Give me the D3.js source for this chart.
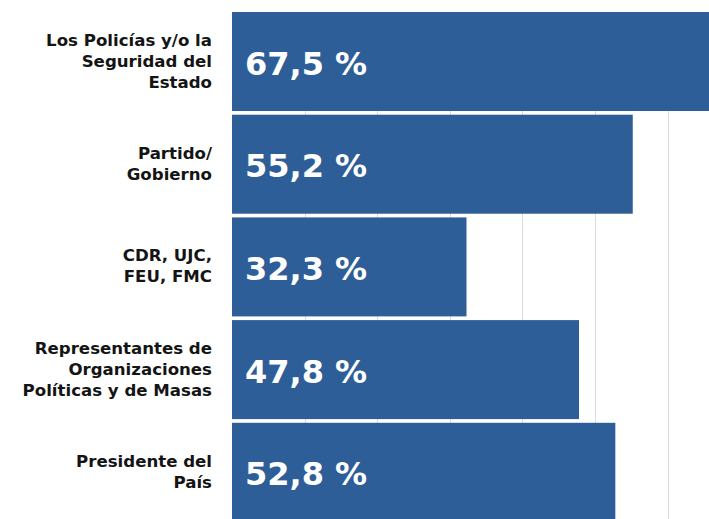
<!DOCTYPE html>
<html>
<head>
<meta charset="utf-8" />
<style>
  html, body {
    margin: 0;
    padding: 0;
    background: #fff;
  }
  .grid line {
    stroke: #dcdcdc;
    stroke-width: 1px;
  }
  .bar {
    fill: #2e5e97;
  }
  .cat {
    font-family: "DejaVu Sans", sans-serif;
    font-weight: bold;
    font-size: 16.6px;
    fill: #141414;
    text-anchor: end;
  }
  .val {
    font-family: "DejaVu Sans", sans-serif;
    font-weight: bold;
    font-size: 32px;
    fill: #fff;
  }
</style>
</head>
<body>
  <div id="vis"></div>

  <script src="https://d3js.org/d3.v7.min.js"></script>
  <script>
  // ** DATA **
  var categories = [
    ["Los Policías y/o la", "Seguridad del", "Estado"],
    ["Partido/", "Gobierno"],
    ["CDR, UJC,", "FEU, FMC"],
    ["Representantes de", "Organizaciones", "Políticas y de Masas"],
    ["Presidente del", "País"]
  ];
  var values = [67.5, 55.2, 32.3, 47.8, 52.8];
  var valueLabels = ["67,5 %", "55,2 %", "32,3 %", "47,8 %", "52,8 %"];
  var gridTicks = [10, 20, 30, 40, 50, 60, 70];

  (function() {
    var W = 709, H = 519;
    var x0 = 232, lineH = 21;

    var svg = d3.select("#vis").append("svg")
      .attr("width", W).attr("height", H);

    var idx = d3.range(values.length);

    var x = d3.scaleLinear()
      .domain([0, 70])
      .range([x0, x0 + 70 * 7.26]);

    var y = d3.scaleBand()
      .domain(idx)
      .range([12, 521.8])
      .paddingInner(0.036)
      .paddingOuter(0);

    // grid lines behind the bars
    svg.append("g").attr("class", "grid")
      .selectAll("line")
      .data(gridTicks)
      .enter().append("line")
        .attr("x1", function(d) { return Math.round(x(d)) + 0.5; })
        .attr("x2", function(d) { return Math.round(x(d)) + 0.5; })
        .attr("y1", y(0))
        .attr("y2", H);

    // bars
    svg.append("g")
      .selectAll("rect")
      .data(idx)
      .enter().append("rect")
        .attr("class", "bar")
        .attr("x", x(0))
        .attr("y", function(i) { return y(i); })
        .attr("width", function(i) { return x(values[i]) - x(0); })
        .attr("height", y.bandwidth());

    // value labels inside the bars
    svg.append("g")
      .selectAll("text")
      .data(idx)
      .enter().append("text")
        .attr("class", "val")
        .attr("x", x(0) + 13)
        .attr("y", function(i) { return y(i) + y.bandwidth() / 2 + 13; })
        .text(function(i) { return valueLabels[i]; });

    // category labels, right aligned, several lines
    var cats = svg.append("g")
      .selectAll("text")
      .data(idx)
      .enter().append("text")
        .attr("class", "cat");

    cats.each(function(i) {
      var lines = categories[i];
      var cy = y(i) + y.bandwidth() / 2;
      var n = lines.length;
      var t = d3.select(this);
      lines.forEach(function(s, k) {
        t.append("tspan")
          .attr("x", 212)
          .attr("y", cy + (k - (n - 1) / 2) * lineH + 5)
          .text(s);
      });
    });
  })();
  </script>
</body>
</html>
